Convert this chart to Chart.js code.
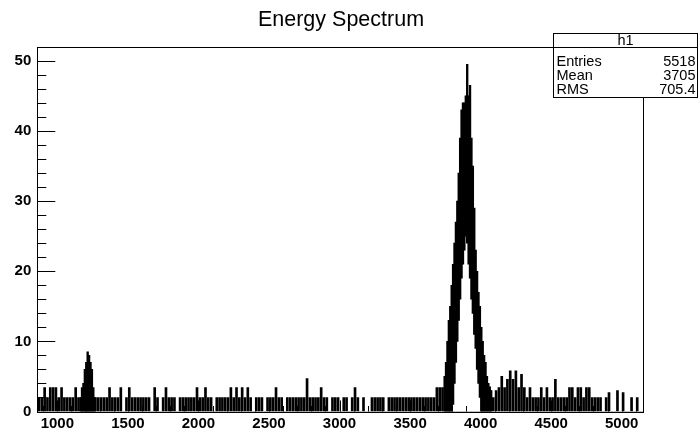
<!DOCTYPE html>
<html>
<head>
<meta charset="utf-8">
<title>Energy Spectrum</title>
<script src="https://cdn.jsdelivr.net/npm/chart.js@4.4.1/dist/chart.umd.min.js"></script>
<style>
  html, body { margin: 0; padding: 0; background: #fff; }
  #wrap { width: 698px; height: 430px; }
</style>
</head>
<body>
<div id="wrap"><canvas id="spectrum"></canvas></div>
<script>
// BACKGROUND BINS: 20 channels wide, first bin centre at 870
const bgFirst = 870;
const bgStep = 20;
const bgCounts = [
    2, 2, 3.4, 2, 3.4, 3.4, 3.4, 2, 3.4, 2,
    2, 2, 2, 3.4, 2, 2, 2, 2, 2, 2,
    2, 2, 2, 2, 2, 3.4, 2, 2, 2, 3.4,
    0, 2, 3.4, 2, 2, 2, 2, 2, 2, 2,
    0, 3.4, 2, 0, 2, 3.4, 2, 2, 2, 0,
    2, 2, 2, 2, 2, 2, 3.4, 2, 2, 3.4,
    2, 2, 0, 2, 2, 2, 2, 2, 3.4, 2,
    3.4, 2, 3.4, 2, 3.4, 2, 0, 2, 2, 2,
    0, 2, 2, 2, 3.4, 2, 2, 0, 2, 2,
    2, 2, 2, 2, 2, 4.7, 2, 2, 2, 2,
    3.4, 2, 2, 0, 2, 2, 2, 0, 2, 2,
    0, 2, 3.4, 2, 0, 2, 0, 0, 2, 2,
    2, 2, 2, 0, 2, 2, 2, 2, 2, 2,
    2, 2, 2, 2, 2, 2, 2, 2, 2, 2,
    2, 3.4, 3.4, 3.4, 2, 2, 2, 0, 0, 0,
    0, 0, 0, 0, 0, 0, 0, 2, 2, 2,
    3, 2, 3, 3.4, 5, 3.4, 4.6, 5.8, 4.6, 5.8,
    3.4, 5.3, 3.4, 2, 3.4, 2, 2, 2, 3.4, 2,
    3.4, 2, 2, 4.6, 2, 2, 2, 2, 3.4, 3.4,
    2, 3.4, 3.4, 2, 3.4, 3.4, 2, 2, 2, 2,
    0, 2, 2.7, 0, 0, 3, 0, 2.7, 0, 0,
    2, 0, 2, 0, 0
];

// PEAK BINS: 10 channels wide, lowest and highest content in each
const peakX = [
    1165, 1175, 1185, 1195, 1205, 1215, 1225, 1235, 1245, 1255, 1265,
    3745, 3755, 3765, 3775, 3785, 3795, 3805, 3815, 3825, 3835,
    3845, 3855, 3865, 3875, 3885, 3895, 3905, 3915, 3925, 3935,
    3945, 3955, 3965, 3975, 3985, 3995, 4005, 4015, 4025, 4035,
    4045, 4055, 4065, 4075
];
const peakLow = [
    0, 0, 0, 0, 0, 0, 0, 0, 0, 0, 0,
    0, 0, 0, 0, 0, 0, 1, 4, 7, 10,
    13, 16, 19, 21, 23, 25, 24, 21, 19, 16,
    14, 11, 9, 6, 4, 2, 0, 0, 0, 0,
    0, 0, 0, 0
];
const peakHigh = [
    2, 3.4, 4, 6, 7, 8.5, 8, 7, 6, 3.4, 2,
    5, 7, 10, 13, 15, 18, 21, 24, 27, 30,
    34, 39, 43, 44, 44, 45, 49.5, 45, 46.5, 39,
    35, 29, 23, 20, 17, 15, 12, 10, 8, 7,
    5, 4, 3.5, 3
];

const xRange = [858, 5151];
const yRange = [0, 52];
const xTicks = [1000, 1500, 2000, 2500, 3000, 3500, 4000, 4500, 5000];
const yTicks = [0, 10, 20, 30, 40, 50];

const statsTitle = "h1";
const statsLabels = ["Entries", "Mean", "RMS"];
const statsValues = ["5518", "3705", "705.4"];

const FONT = "'Liberation Sans', Arial, Helvetica, sans-serif";

// INSIDE TICKS AND FRAME, ROOT STYLE
const frameTicks = {
    id: "frameTicks",
    afterDatasetsDraw(chart) {
        const { ctx, chartArea: a, scales: { x, y } } = chart;
        ctx.save();
        ctx.strokeStyle = "#000";
        ctx.lineWidth = 1;
        ctx.beginPath();
        for (let v = yRange[0]; v <= yRange[1]; v += 2) {
            const py = Math.round(y.getPixelForValue(v)) + 0.5;
            const len = v % 10 === 0 ? 18 : 9;
            ctx.moveTo(a.left, py);
            ctx.lineTo(a.left + len, py);
        }
        for (let v = 900; v <= xRange[1]; v += 100) {
            const px = Math.round(x.getPixelForValue(v)) + 0.5;
            const len = v % 500 === 0 ? 11 : 5.5;
            ctx.moveTo(px, a.bottom);
            ctx.lineTo(px, a.bottom - len);
        }
        ctx.stroke();
        ctx.strokeRect(Math.round(a.left) + 0.5, Math.round(a.top) + 0.5,
            Math.round(a.width), Math.round(a.height));
        ctx.restore();
    }
};

// STATISTICS BOX (TOP RIGHT)
const statsBox = {
    id: "statsBox",
    afterDraw(chart) {
        const ctx = chart.ctx;
        const left = 553.5, top = 33.5, right = 697.5, bottom = 97.5;
        const headH = 14, rowH = 14;
        ctx.save();
        ctx.fillStyle = "#fff";
        ctx.fillRect(left, top, right - left, bottom - top);
        ctx.strokeStyle = "#000";
        ctx.lineWidth = 1;
        ctx.strokeRect(left, top, right - left, bottom - top);
        ctx.beginPath();
        ctx.moveTo(left, top + headH);
        ctx.lineTo(right, top + headH);
        ctx.stroke();
        ctx.fillStyle = "#000";
        ctx.font = "14.5px " + FONT;
        ctx.textBaseline = "middle";
        ctx.textAlign = "center";
        ctx.fillText(statsTitle, (left + right) / 2, top + headH / 2 + 0.5);
        statsLabels.forEach((label, i) => {
            const ty = top + headH + 14.5 + rowH * i;
            ctx.textAlign = "left";
            ctx.fillText(label, left + 3, ty);
            ctx.textAlign = "right";
            ctx.fillText(statsValues[i], right - 2, ty);
        });
        ctx.restore();
    }
};

const bgData = bgCounts.map((c, i) => ({ x: bgFirst + i * bgStep, y: [0, c] }));
const peakData = peakX.map((px, i) => ({ x: px, y: [peakLow[i], peakHigh[i]] }));

new Chart(document.getElementById("spectrum"), {
    type: "bar",
    data: {
        datasets: [
            {
                label: "background",
                data: bgData,
                backgroundColor: "#000",
                borderWidth: 0,
                grouped: false,
                barThickness: 2
            },
            {
                label: "peaks",
                data: peakData,
                backgroundColor: "#000",
                borderWidth: 0,
                grouped: false,
                barThickness: 1.7
            }
        ]
    },
    options: {
        responsive: true,
        maintainAspectRatio: false,
        animation: false,
        layout: { padding: { right: 16 } },
        plugins: {
            legend: { display: false },
            tooltip: { enabled: false },
            title: {
                display: true,
                text: "Energy Spectrum",
                color: "#000",
                font: { family: FONT, size: 21.5, weight: "normal" },
                padding: { top: 7, bottom: 14 }
            }
        },
        scales: {
            x: {
                type: "linear",
                offset: false,
                min: xRange[0],
                max: xRange[1],
                grid: { display: false, drawTicks: false },
                border: { display: false },
                ticks: {
                    color: "#000",
                    padding: 3,
                    maxRotation: 0,
                    autoSkip: false,
                    callback: v => String(v),
                    font: { family: FONT, size: 15, weight: "bold" }
                },
                afterBuildTicks: s => { s.ticks = xTicks.map(v => ({ value: v })); },
                afterFit: s => { s.height = 18.5; }
            },
            y: {
                min: yRange[0],
                max: yRange[1],
                grid: { display: false, drawTicks: false },
                border: { display: false },
                ticks: {
                    color: "#000",
                    padding: 6,
                    autoSkip: false,
                    font: { family: FONT, size: 15, weight: "bold" }
                },
                afterBuildTicks: s => { s.ticks = yTicks.map(v => ({ value: v })); },
                afterFit: s => { s.width = 37.3; }
            },
            yRight: {
                position: "right",
                min: yRange[0],
                max: yRange[1],
                grid: { display: false, drawTicks: false },
                border: { display: false },
                ticks: { display: false },
                afterFit: s => { s.width = 39; }
            }
        }
    },
    plugins: [frameTicks, statsBox]
});
</script>
</body>
</html>
